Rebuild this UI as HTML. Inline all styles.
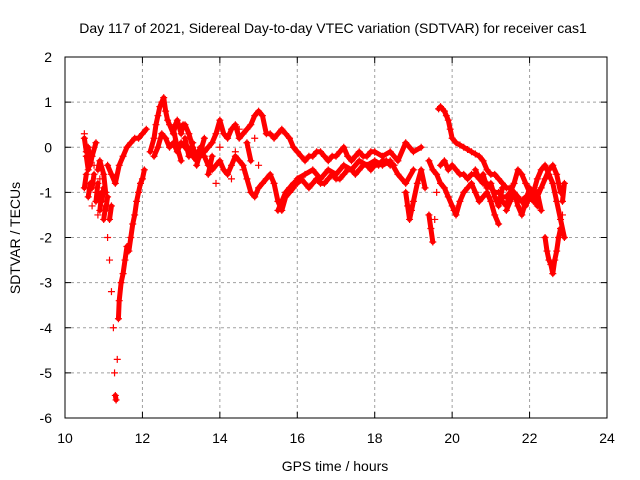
<!DOCTYPE html>
<html><head><meta charset="utf-8"><style>
body{margin:0;background:#fff;}
svg{display:block;font-family:"Liberation Sans",sans-serif;}
</style></head><body>
<svg id="chart" width="640" height="480">
<rect width="640" height="480" fill="#fff"/>
<text x="333" y="33" font-size="14" text-anchor="middle">Day 117 of 2021, Sidereal Day-to-day VTEC variation (SDTVAR) for receiver cas1</text>
<g id="grid"></g>
<g id="marks"></g>
<rect x="65" y="57" width="542" height="361" fill="none" stroke="#000" stroke-width="1"/>
<g id="ticks"></g>
<text x="335" y="471" font-size="14" text-anchor="middle">GPS time / hours</text>
<text transform="translate(20,238) rotate(-90)" font-size="14" text-anchor="middle">SDTVAR / TECUs</text>
</svg>
<script>
const xTicks=[10,12,14,16,18,20,22,24];
const yTicks=[2,1,0,-1,-2,-3,-4,-5,-6];
const trackA_t=[10.5,10.55,10.6,10.65,10.7,10.75,10.8,10.85,10.9,10.95,11.0,11.05,11.1,11.15,11.2,11.25,11.28,11.3,11.32,11.35,11.38,11.4,11.45,11.5,11.55,11.6,11.65,11.7,11.75,11.8,11.85,11.9,11.95,12.0,12.05];
const trackA_v=[0.3,-0.2,-0.5,-0.3,-0.9,-0.6,-1.2,-0.8,-1.4,-1.0,-1.6,-1.3,-2.0,-2.5,-3.2,-4.0,-5.0,-5.5,-5.6,-4.7,-3.8,-3.4,-3.0,-2.8,-2.5,-2.2,-2.3,-2.0,-1.7,-1.5,-1.2,-1.0,-0.8,-0.7,-0.5];
const trackB_t=[10.5,10.55,10.6,10.65,10.7,10.8,10.85,10.9,11.0,11.05,11.1,11.2,11.3,11.4,11.5,11.6,11.7,11.8,11.9,12.0,12.1];
const trackB_v=[0.2,-0.1,0.0,-0.4,-0.2,0.1,-0.5,-0.3,-0.6,-1.0,-0.4,-0.6,-0.8,-0.4,-0.2,0.0,0.1,0.2,0.2,0.3,0.4];
const trackK_t=[10.5,10.55,10.6,10.65,10.7,10.75,10.8,10.85,10.9,10.95,11.0,11.05,11.1,11.15,11.2];
const trackK_v=[-0.9,-0.6,-1.1,-0.8,-1.3,-0.4,-1.0,-1.5,-0.7,-1.2,-0.9,-1.4,-1.1,-1.6,-1.3];
const trackC_t=[12.2,12.3,12.35,12.4,12.45,12.5,12.55,12.6,12.65,12.7,12.8,12.85,12.9,13.0,13.05,13.1,13.2,13.3,13.4,13.5];
const trackC_v=[-0.1,0.2,0.5,0.7,0.9,1.0,1.1,0.8,0.6,0.5,0.3,0.5,0.6,0.3,0.5,0.5,0.3,0.0,-0.2,0.0];
const trackD_t=[12.3,12.4,12.5,12.6,12.7,12.8,12.9,13.0,13.1,13.2,13.3,13.4,13.5,13.6,13.7,13.8,13.9,14.0,14.1,14.2,14.3,14.4,14.5,14.6,14.7,14.8,14.9,15.0,15.1,15.2,15.3,15.4,15.5,15.6,15.7,15.8,15.9,16.0,16.2,16.4,16.6,16.8,17.0,17.2,17.4,17.6,17.8,18.0,18.2,18.4,18.6,18.8,19.0];
const trackD_v=[-0.2,0.0,0.3,0.2,0.0,0.1,-0.1,0.1,0.0,-0.1,-0.2,-0.3,-0.1,-0.2,-0.4,-0.5,-0.4,-0.3,-0.5,-0.6,-0.4,-0.2,-0.3,-0.4,-0.7,-1.0,-1.1,-0.9,-0.8,-0.7,-0.6,-0.8,-1.2,-1.4,-1.1,-1.0,-0.9,-0.7,-0.6,-0.5,-0.7,-0.5,-0.6,-0.4,-0.5,-0.3,-0.4,-0.3,-0.4,-0.3,-0.6,-0.8,-0.5];
const trackE_t=[13.5,13.6,13.7,13.8,13.9,14.0,14.1,14.2,14.3,14.4,14.5,14.6,14.7,14.8,14.9,15.0,15.1,15.2,15.3,15.4,15.5,15.6,15.7,15.8,15.9,16.0,16.1,16.2,16.3,16.4,16.5,16.6,16.7,16.8,16.9,17.0,17.1,17.2,17.3,17.4,17.5,17.6,17.7,17.8,17.9,18.0,18.2,18.4,18.6,18.8,19.0,19.2];
const trackE_v=[-0.2,-0.1,0.0,0.1,0.3,0.6,0.3,0.2,0.4,0.5,0.2,0.3,0.4,0.5,0.7,0.8,0.7,0.3,0.3,0.2,0.3,0.4,0.3,0.2,0.0,-0.1,-0.2,-0.3,-0.2,-0.2,-0.1,-0.1,-0.2,-0.3,-0.2,-0.2,-0.1,0.0,-0.2,-0.3,-0.2,-0.1,-0.2,-0.2,-0.1,-0.1,-0.2,-0.1,-0.3,0.1,-0.1,0.0];
const trackJ_t=[12.8,12.9,13.0,13.1,13.2,13.3,13.4,13.5,13.6,13.7,13.8,13.9,14.0,14.1,14.2,14.3,14.4,14.5,14.6,14.7,14.8,14.9,15.0];
const trackJ_v=[0.4,0.0,-0.3,0.2,-0.2,0.1,-0.4,-0.1,0.2,-0.6,-0.2,-0.8,0.0,-0.5,0.2,-0.7,-0.1,0.4,-0.5,0.1,-0.3,0.2,-0.4];
const trackF_t=[15.5,15.6,15.7,15.8,15.9,16.0,16.1,16.2,16.3,16.4,16.5,16.6,16.7,16.8,16.9,17.0,17.1,17.2,17.3,17.4,17.5,17.6,17.7,17.8,17.9,18.0,18.1,18.2,18.3,18.4,18.5];
const trackF_v=[-1.4,-1.2,-1.0,-0.9,-0.8,-0.8,-0.7,-0.8,-0.9,-0.8,-0.7,-0.8,-0.8,-0.7,-0.6,-0.7,-0.7,-0.6,-0.5,-0.5,-0.6,-0.5,-0.4,-0.4,-0.5,-0.4,-0.4,-0.3,-0.3,-0.4,-0.4];
const trackG_t=[18.8,18.85,18.9,18.95,19.0,19.1,19.2,19.3,19.4,19.45,19.5,19.55,19.6,19.7,19.8,19.9,20.0,20.1,20.2,20.3,20.4,20.5,20.6,20.7,20.8,20.9,21.0,21.1,21.2,21.3,21.4,21.5,21.6,21.7,21.8,21.9,22.0,22.1,22.2,22.3,22.4,22.45,22.5,22.55,22.6,22.65,22.7,22.75,22.8,22.85,22.9];
const trackG_v=[-1.0,-1.3,-1.6,-1.4,-1.2,-0.8,-0.5,-0.9,-1.5,-1.8,-2.1,-1.6,-1.0,-0.4,-0.3,-0.5,-0.4,-0.5,-0.6,-0.6,-0.7,-0.6,-0.6,-0.7,-0.8,-0.8,-0.9,-1.0,-1.0,-1.1,-1.1,-1.0,-1.0,-1.1,-1.2,-1.1,-1.1,-1.0,-1.0,-1.4,-2.0,-2.3,-2.5,-2.6,-2.8,-2.5,-2.3,-2.0,-1.8,-1.2,-0.8];
const trackH_t=[19.65,19.7,19.75,19.8,19.85,19.9,19.95,20.0,20.1,20.2,20.3,20.4,20.5,20.6,20.7,20.8,20.9,21.0,21.1,21.2,21.3,21.4,21.5,21.6,21.7,21.8,21.9,22.0,22.1,22.2,22.3,22.4,22.5,22.6,22.7,22.8,22.9];
const trackH_v=[0.85,0.9,0.85,0.8,0.7,0.6,0.4,0.2,0.1,0.05,0.0,-0.05,-0.1,-0.15,-0.2,-0.3,-0.5,-0.6,-0.6,-0.7,-0.8,-0.9,-0.9,-1.0,-1.1,-1.2,-1.3,-1.1,-1.0,-0.7,-0.5,-0.4,-0.6,-0.8,-1.2,-1.6,-2.0];
const trackI_t=[19.4,19.5,19.6,19.7,19.8,19.9,20.0,20.05,20.1,20.2,20.3,20.4,20.5,20.6,20.7,20.8,20.9,21.0,21.1,21.2,21.3,21.4,21.5,21.6,21.7,21.8,21.9,22.0,22.1,22.2,22.3,22.4,22.5,22.6,22.7,22.8,22.85];
const trackI_v=[-0.3,-0.5,-0.6,-0.8,-0.9,-1.1,-1.3,-1.4,-1.5,-1.2,-1.0,-0.9,-0.8,-1.0,-1.2,-1.1,-1.0,-1.2,-1.5,-1.7,-1.2,-1.3,-1.0,-0.8,-0.5,-0.6,-0.8,-1.0,-1.2,-1.1,-0.9,-0.7,-0.5,-0.4,-0.6,-1.0,-1.5];
const trackL_t=[20.6,20.7,20.8,20.9,21.0,21.1,21.2,21.3,21.4,21.5,21.6,21.7,21.8,21.9,22.0,22.1,22.2];
const trackL_v=[-0.5,-0.7,-0.6,-0.9,-0.8,-1.1,-1.3,-0.9,-1.4,-1.2,-1.0,-1.3,-1.5,-1.2,-0.9,-1.1,-1.3];
const tracks=[[trackA_t,trackA_v],[trackB_t,trackB_v],[trackK_t,trackK_v],[trackC_t,trackC_v],[trackD_t,trackD_v],[trackE_t,trackE_v],[trackJ_t,trackJ_v],[trackF_t,trackF_v],[trackG_t,trackG_v],[trackH_t,trackH_v],[trackI_t,trackI_v],[trackL_t,trackL_v]];

const X0=65,X1=607,Y0=418,Y1=57;
function xs(v){return X0+(v-10)/(24-10)*(X1-X0);}
function ys(v){return Y0-(v+6)/(2+6)*(Y0-Y1);}
const NS="http://www.w3.org/2000/svg";
const grid=document.getElementById('grid'),ticks=document.getElementById('ticks'),marks=document.getElementById('marks');
function mk(tag,attrs,parent){const e=document.createElementNS(NS,tag);for(const k in attrs)e.setAttribute(k,attrs[k]);parent.appendChild(e);return e;}
xTicks.forEach(t=>{
  const x=xs(t);
  if(t>10&&t<24){const g=mk('line',{x1:x,x2:x,y1:Y1,y2:Y0,stroke:'#a0a0a0','stroke-dasharray':'3,3'},grid);
  
  }
  mk('line',{x1:x,x2:x,y1:Y0,y2:Y0-6,stroke:'#000'},ticks);
  mk('line',{x1:x,x2:x,y1:Y1,y2:Y1+6,stroke:'#000'},ticks);
  const l=mk('text',{x:x,y:443,'font-size':14,'text-anchor':'middle'},ticks);
  l.textContent=t;
  
  
});
yTicks.forEach(t=>{
  const y=ys(t);
  if(t<2&&t>-6){const g=mk('line',{x1:X0,x2:X1,y1:y,y2:y,stroke:'#a0a0a0','stroke-dasharray':'3,3'},grid);
  
  }
  mk('line',{x1:X0,x2:X0+6,y1:y,y2:y,stroke:'#000'},ticks);
  mk('line',{x1:X1,x2:X1-6,y1:y,y2:y,stroke:'#000'},ticks);
  const l=mk('text',{x:52,y:y+5,'font-size':14,'text-anchor':'end'},ticks);
  l.textContent=t;
  
  
});
let d='',band='';
tracks.forEach(tr=>{
  const t=tr[0],v=tr[1];
  for(let i=0;i<t.length;i++){
    const x=xs(t[i]),y=ys(v[i]);
    d+=`M${x-3.5},${y}h7M${x},${y-3.5}v7`;
    if(i>0&&Math.abs(v[i]-v[i-1])<0.45) band+=`M${xs(t[i-1])},${ys(v[i-1])}L${x},${y}`;
  }
});
const b=mk('path',{d:band,stroke:'#ff0000','stroke-width':5,fill:'none','stroke-linecap':'round','stroke-linejoin':'round'},marks);


const p=mk('path',{d:d,stroke:'#ff0000','stroke-width':1.2,fill:'none'},marks);


</script>
</body></html>
